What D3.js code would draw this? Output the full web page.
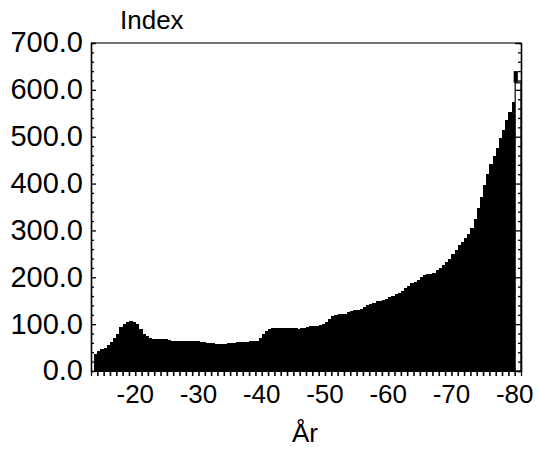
<!DOCTYPE html>
<html><head><meta charset="utf-8">
<script src="https://cdn.jsdelivr.net/npm/d3@7"></script>
<style>
html,body{margin:0;padding:0;background:#fff;}
svg{display:block;font-family:"Liberation Sans",Arial,Helvetica,sans-serif;}
</style></head>
<body>
<svg id="chart" width="539" height="449"></svg>
<script>
// Half-year periods (start of each period)
const periods = [1913.5,1914,1914.5,1915,1915.5,1916,1916.5,1917,1917.5,1918,1918.5,1919,1919.5,
1920,1920.5,1921,1921.5,1922,1922.5,1923,1923.5,1924,1924.5,1925,1925.5,1926,1926.5,1927,1927.5,1928,1928.5,1929,1929.5,
1930,1930.5,1931,1931.5,1932,1932.5,1933,1933.5,1934,1934.5,1935,1935.5,1936,1936.5,1937,1937.5,1938,1938.5,1939,1939.5,
1940,1940.5,1941,1941.5,1942,1942.5,1943,1943.5,1944,1944.5,1945,1945.5,1946,1946.5,1947,1947.5,1948,1948.5,1949,1949.5,
1950,1950.5,1951,1951.5,1952,1952.5,1953,1953.5,1954,1954.5,1955,1955.5,1956,1956.5,1957,1957.5,1958,1958.5,1959,1959.5,
1960,1960.5,1961,1961.5,1962,1962.5,1963,1963.5,1964,1964.5,1965,1965.5,1966,1966.5,1967,1967.5,1968,1968.5,1969,1969.5,
1970,1970.5,1971,1971.5,1972,1972.5,1973,1973.5,1974,1974.5,1975,1975.5,1976,1976.5,1977,1977.5,1978,1978.5,1979,1979.5];
const values = [37,42,46,49,56,62,70,80,93,100,105,106,105,
100,90,80,74,71,69,68,69,69,68,66,65,64,64,64,63,64,64,63,63,
62,61,60,59,59,58,58,58,58,59,59,60,61,61,62,62,63,63,65,71,
79,86,90,91,92,92,92,91,91,91,91,90,91,92,94,96,97,97,98,100,
104,112,118,120,121,121,122,125,128,130,131,133,136,140,144,146,149,150,152,154,
158,161,164,166,171,177,182,187,191,195,200,204,207,208,210,215,220,226,232,240,
249,259,268,276,284,293,305,325,348,372,398,420,441,458,476,497,515,535,553,575];
// Latest year, drawn as outlined column with a peak tip
const lastPeriod = [1980];
const lastValue = [615];
const lastPeak = [640];

const xTickYears = [1920,1930,1940,1950,1960,1970,1980];
const xTickLabels = ["-20","-30","-40","-50","-60","-70","-80"];
const yTicks = [0,100,200,300,400,500,600,700];
const yTickLabels = ["0.0","100.0","200.0","300.0","400.0","500.0","600.0","700.0"];
const yTitle = "Index";
const xTitle = "År";

const svg = d3.select("#chart");
const L = 91, R = 521, T = 43, B = 371;
const x = d3.scaleLinear().domain([1913, 1981]).range([L, R]);
const y = d3.scaleLinear().domain([0, 700]).range([B, T]);

// bars
svg.append("g").attr("shape-rendering", "crispEdges").selectAll("rect").data(periods).join("rect")
  .attr("x", d => x(d))
  .attr("width", d => x(d + 0.5) - x(d) + 1)
  .attr("y", (d, i) => y(values[i]))
  .attr("height", (d, i) => y(0) - y(values[i]))
  .attr("fill", "#000");

// last column
svg.append("g").selectAll("rect").data(lastPeriod).join("rect")
  .attr("x", d => x(d) + 0.5)
  .attr("width", d => R - x(d) - 0.5)
  .attr("y", (d, i) => y(lastValue[i]))
  .attr("height", (d, i) => y(0) - y(lastValue[i]))
  .attr("fill", "#fff").attr("stroke", "#000").attr("stroke-width", 1.2);
svg.append("g").selectAll("rect").data(lastPeriod).join("rect")
  .attr("x", d => x(d) - 1)
  .attr("width", d => x(d + 0.5) - x(d) + 1)
  .attr("y", (d, i) => y(lastPeak[i]))
  .attr("height", (d, i) => y(lastValue[i]) - y(lastPeak[i]))
  .attr("fill", "#000");

// frame
svg.append("line").attr("x1", L).attr("x2", R).attr("y1", T).attr("y2", T)
  .attr("stroke", "#444").attr("stroke-width", 1.3);

// left axis (ticks inward)
const yMinor = d3.range(0, 701, 20);
const leftAx = d3.axisRight(y).tickValues(yMinor).tickSize(3).tickFormat("");
const gl = svg.append("g").attr("transform", `translate(${L},0)`).call(leftAx);
gl.selectAll("line").attr("stroke", "#000").attr("stroke-width", 1.3)
  .attr("x2", d => d % 100 === 0 ? 5 : 3);
gl.select(".domain").attr("stroke", "#000").attr("stroke-width", 1.6);

// right axis (ticks inward)
const rightAx = d3.axisLeft(y).tickValues(yMinor).tickSize(3).tickFormat("");
const gr = svg.append("g").attr("transform", `translate(${R},0)`).call(rightAx);
gr.selectAll("line").attr("stroke", "#000").attr("stroke-width", 1.3)
  .attr("x2", d => d % 100 === 0 ? -6 : -3);
gr.select(".domain").attr("stroke", "#000").attr("stroke-width", 1.6);

// y labels
svg.append("g").selectAll("text").data(yTicks).join("text")
  .attr("x", 83).attr("y", d => y(d) + 9.4)
  .attr("text-anchor", "end").attr("font-size", 29).attr("fill", "#000")
  .text((d, i) => yTickLabels[i]);

// bottom axis: yearly ticks downward
const xYears = d3.range(1914, 1981, 1);
const botAx = d3.axisBottom(x).tickValues(xYears).tickSize(5).tickFormat("");
const gb = svg.append("g").attr("transform", `translate(0,${B})`).call(botAx);
gb.selectAll("line").attr("stroke", "#000").attr("stroke-width", 1.6);
gb.select(".domain").attr("stroke", "#000").attr("stroke-width", 1.2);

// x labels
svg.append("g").selectAll("text").data(xTickYears).join("text")
  .attr("x", d => x(d)).attr("y", 403)
  .attr("text-anchor", "middle").attr("font-size", 26).attr("fill", "#000")
  .text((d, i) => xTickLabels[i]);

svg.append("text").attr("x", 120).attr("y", 29).attr("font-size", 26).attr("fill", "#000").text(yTitle);
svg.append("text").attr("x", 305).attr("y", 442).attr("text-anchor", "middle")
  .attr("font-size", 26).attr("fill", "#000").text(xTitle);
</script>
</body></html>
